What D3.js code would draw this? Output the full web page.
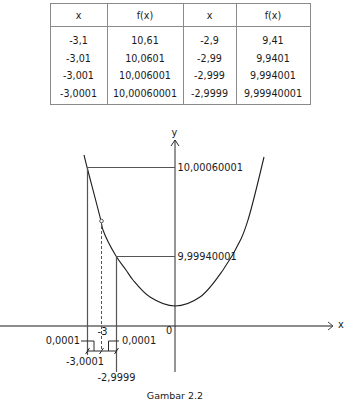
<!DOCTYPE html>
<html>
<head>
<meta charset="utf-8">
<script src="https://cdn.jsdelivr.net/npm/d3@7"></script>
<style>
  body { margin: 0; background: #fff; }
  svg { display: block; font-family: "DejaVu Sans", Verdana, sans-serif; }
</style>
</head>
<body>
<div id="chart-area"></div>
<script>
/*
*    Gambar 2.2 - limit f(x) = x^2 + 1 di sekitar x = -3
*/

// isi tabel
var judulKolom = ["x", "f(x)", "x", "f(x)"];
var xKiri  = ["-3,1", "-3,01", "-3,001", "-3,0001"];
var fKiri  = ["10,61", "10,0601", "10,006001", "10,00060001"];
var xKanan = ["-2,9", "-2,99", "-2,999", "-2,9999"];
var fKanan = ["9,41", "9,9401", "9,994001", "9,99940001"];

// kurva (satuan sketsa, bukan skala asli)
var kurvaX = [-9.1, -8.8, -7.4, -7.2, -5.9, -4.9, -4.2, -2.5, 0, 2.5, 4.8, 6.6, 7.3, 8.9];
var kurvaY = [17.1, 15.9, 10.5, 9.6, 7.0, 5.6, 4.6, 2.9, 2.0, 2.9, 5.6, 8.7, 10.6, 16.9];

// titik bantu pada kurva
var titikX = [-8.8, -7.4, -5.9];
var titikY = [15.9, 10.5, 7.0];
var labelX = ["-3,0001", "-3", "-2,9999"];
var labelY = ["10,00060001", "9,99940001"];
var labelSelisih = ["0,0001", "0,0001"];

var width = 352, height = 400;
var warna = "#2a2a2a";

var svg = d3.select("#chart-area")
  .append("svg")
    .attr("width", width)
    .attr("height", height);

// ---------- tabel ----------
var kolom = [50, 107, 183, 236, 310];
var tblAtas = 3, tblHeader = 26, tblBawah = 104;
var baris = d3.scaleBand().domain(d3.range(4)).range([31, 102]);

var tabel = svg.append("g")
  .attr("stroke", "#8a8a8a")
  .attr("stroke-width", 1);

tabel.append("rect")
  .attr("x", kolom[0] + 0.5).attr("y", tblAtas + 0.5)
  .attr("width", kolom[4] - kolom[0]).attr("height", tblBawah - tblAtas)
  .attr("fill", "none");
tabel.append("line")
  .attr("x1", kolom[0]).attr("x2", kolom[4])
  .attr("y1", tblHeader + 0.5).attr("y2", tblHeader + 0.5);
tabel.selectAll("line.kol")
  .data(kolom.slice(1, 4))
  .join("line").attr("class", "kol")
  .attr("x1", d => d + 0.5).attr("x2", d => d + 0.5)
  .attr("y1", tblAtas).attr("y2", tblBawah);

var tengahKolom = d3.range(4).map(i => (kolom[i] + kolom[i + 1]) / 2);
var tSize = "9.6px";

svg.selectAll("text.judul")
  .data(judulKolom)
  .join("text").attr("class", "judul")
  .attr("x", (d, i) => tengahKolom[i])
  .attr("y", (tblAtas + tblHeader) / 2 + 1)
  .attr("text-anchor", "middle")
  .attr("dominant-baseline", "middle")
  .attr("font-size", tSize)
  .attr("fill", "#1a1a1a")
  .text(d => d);

[xKiri, fKiri, xKanan, fKanan].forEach(function(kol, j) {
  svg.selectAll("text.c" + j)
    .data(kol)
    .join("text").attr("class", "c" + j)
    .attr("x", tengahKolom[j])
    .attr("y", (d, i) => baris(i) + baris.bandwidth() / 2 + 1)
    .attr("text-anchor", "middle")
    .attr("dominant-baseline", "middle")
    .attr("font-size", tSize)
    .attr("fill", "#1a1a1a")
    .text(d => d);
});

// ---------- grafik ----------
var x = d3.scaleLinear().domain([-17.5, 17.5]).range([0, 350]);
var y = d3.scaleLinear().domain([0, 20]).range([326, 126]);

var g = svg.append("g")
  .attr("fill", "none")
  .attr("stroke", warna)
  .attr("stroke-width", 1);

// sumbu x
var xUjung = 15.8;
g.append("line")
  .attr("x1", x(-17.5)).attr("x2", x(xUjung))
  .attr("y1", y(0)).attr("y2", y(0))
  .attr("stroke", "#666").attr("stroke-width", 1.3);
g.append("path")
  .attr("d", d3.line()([[x(xUjung) - 5, y(0) - 4], [x(xUjung), y(0)], [x(xUjung) - 5, y(0) + 4]]))
  .attr("stroke", "#444");

// sumbu y
var yUjung = 18.6, yBawah = -4.6;
g.append("line")
  .attr("x1", x(0)).attr("x2", x(0))
  .attr("y1", y(yBawah)).attr("y2", y(yUjung));
g.append("path")
  .attr("d", d3.line()([[x(0) - 4, y(yUjung) + 6], [x(0), y(yUjung)], [x(0) + 4, y(yUjung) + 6]]));

// kurva
var kurva = kurvaX.map((d, i) => [d, kurvaY[i]]);
g.append("path")
  .datum(kurva)
  .attr("stroke", "#1e1e1e")
  .attr("stroke-width", 1.1)
  .attr("d", d3.line()
    .x(d => x(d[0]))
    .y(d => y(d[1]))
    .curve(d3.curveCatmullRom.alpha(0.5)));

// garis bantu horizontal
[0, 2].forEach(function(i) {
  g.append("line")
    .attr("x1", x(titikX[i])).attr("x2", x(0))
    .attr("y1", y(titikY[i]) + 0.5).attr("y2", y(titikY[i]) + 0.5)
    .attr("stroke", "#555");
});

// garis bantu vertikal
var ujungBawah = [-2.9, -2.5, -4.6];
titikX.forEach(function(d, i) {
  g.append("line")
    .attr("x1", x(d) + 0.5).attr("x2", x(d) + 0.5)
    .attr("y1", y(titikY[i])).attr("y2", y(ujungBawah[i]))
    .attr("stroke", "#555")
    .attr("stroke-width", i === 1 ? 1 : 1.2)
    .attr("stroke-dasharray", i === 1 ? "3,2" : null);
});

// titik kosong di x = -3
g.append("circle")
  .attr("cx", x(titikX[1]) + 0.5).attr("cy", y(titikY[1]))
  .attr("r", 1.8)
  .attr("fill", "#fff")
  .attr("stroke", "#555");

// garis ukur selisih
var yUkur = -2.5, yLeader = -1.5;
g.append("line")
  .attr("x1", x(titikX[0])).attr("x2", x(titikX[2]) + 1)
  .attr("y1", y(yUkur)).attr("y2", y(yUkur));
titikX.forEach(function(d) {
  g.append("line")
    .attr("x1", x(d) - 1.5).attr("x2", x(d) + 2.5)
    .attr("y1", y(yUkur) + 3).attr("y2", y(yUkur) - 3);
});
var tengahSelisih = [(titikX[0] + titikX[1]) / 2, (titikX[1] + titikX[2]) / 2];
g.append("path")
  .attr("d", d3.line()([
    [x(-9.4), y(yLeader)], [x(tengahSelisih[0]), y(yLeader)], [x(tengahSelisih[0]), y(yUkur)]
  ]));
g.append("path")
  .attr("d", d3.line()([
    [x(-5.6), y(yLeader)], [x(tengahSelisih[1]), y(yLeader)], [x(tengahSelisih[1]), y(yUkur)]
  ]));

// teks
var fSize = "9.8px";
var teks = svg.append("g")
  .attr("font-size", fSize)
  .attr("fill", "#1a1a1a")
  .attr("dominant-baseline", "middle");

labelY.forEach(function(d, i) {
  teks.append("text")
    .attr("x", x(0) + 2.5)
    .attr("y", y(titikY[i * 2]) + 0.5)
    .text(d);
});

teks.append("text")
  .attr("x", x(titikX[0]) - 2).attr("y", y(-3.6))
  .attr("text-anchor", "middle").text(labelX[0]);
teks.append("text")
  .attr("x", x(titikX[1]) + 1.5).attr("y", y(-0.6))
  .attr("text-anchor", "middle").text(labelX[1]);
teks.append("text")
  .attr("x", x(titikX[2]) + 0.5).attr("y", y(-5.2))
  .attr("text-anchor", "middle").text(labelX[2]);

teks.append("text")
  .attr("x", x(-9.5)).attr("y", y(yLeader))
  .attr("text-anchor", "end").text(labelSelisih[0]);
teks.append("text")
  .attr("x", x(-5.3)).attr("y", y(yLeader))
  .attr("text-anchor", "start").text(labelSelisih[1]);

teks.append("text")
  .attr("x", x(-0.6)).attr("y", y(-0.5))
  .attr("text-anchor", "middle").text("0");
teks.append("text")
  .attr("x", x(16.6)).attr("y", y(0) - 1.5)
  .attr("text-anchor", "middle").text("x");
teks.append("text")
  .attr("x", x(-0.05)).attr("y", y(19.3))
  .attr("text-anchor", "middle").text("y");

// keterangan gambar di tepi bawah
svg.append("text")
  .attr("x", 175).attr("y", 398.5)
  .attr("text-anchor", "middle")
  .attr("font-size", "9.5px")
  .attr("fill", "#1a1a1a")
  .text("Gambar 2.2");
</script>
</body>
</html>
